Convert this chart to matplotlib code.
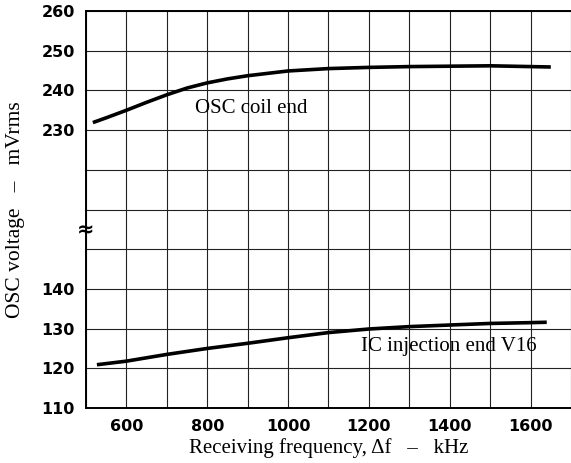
import matplotlib
matplotlib.use('Agg')
import matplotlib.pyplot as plt
import numpy as np

# OSC coil end (upper, mVrms)
freq_coil = [517, 550, 600, 650, 700, 750, 800, 850, 900, 1000, 1100, 1200, 1300, 1400, 1500, 1600, 1650]
volt_coil = [231.9, 233.1, 235.0, 237.0, 238.9, 240.6, 241.9, 242.9, 243.7, 244.9, 245.5, 245.8, 246.0, 246.1, 246.2, 246.0, 245.9]

# IC injection end V16 (lower, mVrms)
freq_ic = [527, 600, 700, 800, 900, 1000, 1100, 1200, 1300, 1400, 1500, 1600, 1640]
volt_ic = [120.9, 121.8, 123.5, 125.0, 126.3, 127.7, 129.0, 129.9, 130.5, 130.9, 131.3, 131.5, 131.6]

x_labels = [600, 800, 1000, 1200, 1400, 1600]
y_low_labels = [110, 120, 130, 140]
y_high_labels = [230, 240, 250, 260]

# broken axis: lower band 110-140 -> 0..3, upper band 230-260 -> 7..10
def low_pos(v):
    return (np.asarray(v) - 110) / 10.0

def high_pos(v):
    return (np.asarray(v) - 260) / 10.0 + 10

fig = plt.figure(figsize=(5.71, 4.63), dpi=100)
ax = fig.add_axes([0.1506, 0.1188, 0.8494, 0.8574])

ax.plot(freq_coil, high_pos(volt_coil), color='black', lw=2.6, solid_capstyle='butt')
ax.plot(freq_ic, low_pos(volt_ic), color='black', lw=2.6, solid_capstyle='butt')

ax.set_xlim(500, 1700)
ax.set_ylim(0, 10)

ax.set_xticks(x_labels)
ax.set_xticklabels([str(v) for v in x_labels])
ax.set_xticks(np.arange(500, 1701, 100), minor=True)

ypos = list(low_pos(y_low_labels)) + list(high_pos(y_high_labels))
ax.set_yticks(ypos)
ax.set_yticklabels([str(v) for v in y_low_labels + y_high_labels])
ax.set_yticks(np.arange(0, 11, 1), minor=True)

ax.grid(True, which='both', color='#222222', lw=0.8)
ax.set_axisbelow(True)
ax.tick_params(which='both', length=0)
ax.tick_params(axis='both', labelsize=11.5, pad=8)
for lab in ax.get_xticklabels() + ax.get_yticklabels():
    lab.set_fontweight('bold')

for s in ['left', 'bottom', 'top']:
    ax.spines[s].set_linewidth(1.4)
ax.spines['right'].set_visible(False)

ax.set_xlabel('Receiving frequency, \u0394f   \u2013   kHz', family='Liberation Serif', fontsize=15, labelpad=3)
ax.set_ylabel('OSC voltage   \u2013   mVrms', family='Liberation Serif', fontsize=15.5, labelpad=12)

ax.text(770, high_pos(235.5), 'OSC coil end', family='Liberation Serif', fontsize=15, va='center', ha='left')
ax.text(1180, low_pos(125.6), 'IC injection end V16', family='Liberation Serif', fontsize=15, va='center', ha='left')

# break marker on the y axis
ax.text(0.0, 4.48, '\u2248', transform=ax.get_yaxis_transform(), ha='center', va='center',
        fontsize=15, fontweight='bold', clip_on=False)

plt.savefig('out.png', dpi=100)
